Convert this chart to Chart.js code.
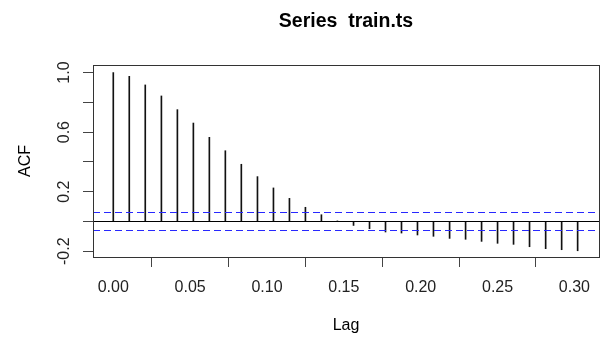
<!DOCTYPE html>
<html>
<head>
<meta charset="utf-8">
<script src="https://cdn.jsdelivr.net/npm/chart.js@4/dist/chart.umd.min.js"></script>
<style>
  body { margin: 0; background: #fff; }
</style>
</head>
<body>
<canvas id="acf-plot" width="606" height="338"></canvas>
<script>
// ACF of train.ts
const lags = [0.0000, 0.0104, 0.0208, 0.0313, 0.0417, 0.0521, 0.0625, 0.0729, 0.0833, 0.0938,
              0.1042, 0.1146, 0.1250, 0.1354, 0.1458, 0.1563, 0.1667, 0.1771, 0.1875, 0.1979,
              0.2083, 0.2188, 0.2292, 0.2396, 0.2500, 0.2604, 0.2708, 0.2813, 0.2917, 0.3021];
const acfValues = [1.000, 0.975, 0.917, 0.843, 0.751, 0.661, 0.565, 0.475, 0.384, 0.301,
                   0.225, 0.155, 0.095, 0.045, 0.003, -0.027, -0.049, -0.071, -0.078, -0.091,
                   -0.100, -0.114, -0.120, -0.134, -0.147, -0.154, -0.170, -0.183, -0.190, -0.197];
const ciUpper = 0.063;
const ciLower = -0.063;

const xTickValues = [0, 0.05, 0.10, 0.15, 0.20, 0.25, 0.30];
const xTickLabels = ['0.00', '0.05', '0.10', '0.15', '0.20', '0.25', '0.30'];
const yTickValues = [-0.2, 0, 0.2, 0.4, 0.6, 0.8, 1.0];
const yTickLabels = ['-0.2', '', '0.2', '', '0.6', '', '1.0'];

const FONT = "'Liberation Sans', Arial, sans-serif";

// box around the plot region plus the zero line and the blue confidence bounds
const acfLines = {
    id: 'acfLines',
    afterDatasetsDraw(chart) {
        const { ctx, chartArea: a, scales: { y } } = chart;
        ctx.save();
        ctx.lineWidth = 1;

        ctx.strokeStyle = '#000';
        const y0 = Math.floor(y.getPixelForValue(0)) + 0.5;
        ctx.beginPath();
        ctx.moveTo(a.left, y0);
        ctx.lineTo(a.right, y0);
        ctx.stroke();

        ctx.strokeStyle = 'rgb(40, 40, 255)';
        ctx.setLineDash([7, 4]);
        ctx.beginPath();
        [ciUpper, ciLower].forEach(v => {
            const py = Math.floor(y.getPixelForValue(v)) + 0.5;
            ctx.moveTo(a.left, py);
            ctx.lineTo(a.right, py);
        });
        ctx.stroke();
        ctx.setLineDash([]);

        ctx.strokeStyle = '#333';
        ctx.strokeRect(Math.round(a.left) + 0.5, Math.round(a.top) + 0.5,
                       Math.round(a.right - a.left), Math.round(a.bottom - a.top));
        ctx.restore();
    }
};

new Chart(document.getElementById('acf-plot'), {
    type: 'bar',
    data: {
        datasets: [{
            label: 'ACF',
            data: lags.map((l, i) => ({ x: l, y: acfValues[i] })),
            backgroundColor: '#111',
            barThickness: 1,
            borderWidth: 0
        }]
    },
    options: {
        responsive: false,
        animation: false,
        events: [],
        layout: { autoPadding: false, padding: { left: 0, right: 7, top: 0, bottom: 0 } },
        plugins: {
            legend: { display: false },
            tooltip: { enabled: false },
            title: {
                display: true,
                fullSize: false,
                text: 'Series  train.ts',
                color: '#000',
                font: { family: FONT, size: 19.5, weight: 'bold', lineHeight: 1.2 },
                padding: { top: 10, bottom: 31.6 }
            }
        },
        scales: {
            x: {
                type: 'linear',
                offset: false,
                min: -0.0132,
                max: 0.316,
                afterBuildTicks: s => { s.ticks = xTickValues.map(v => ({ value: v })); },
                afterFit: s => { s.height = 81; },
                ticks: {
                    color: '#222',
                    font: { family: FONT, size: 16 },
                    padding: 11,
                    maxRotation: 0,
                    autoSkip: false,
                    callback: (v) => xTickLabels[xTickValues.indexOf(v)]
                },
                grid: { drawOnChartArea: false, tickLength: 10, color: '#444' },
                border: { display: false },
                title: {
                    display: true,
                    text: 'Lag',
                    color: '#000',
                    font: { family: FONT, size: 16 },
                    padding: { top: 0, bottom: 2.4 }
                }
            },
            y: {
                min: -0.239,
                max: 1.051,
                afterBuildTicks: s => { s.ticks = yTickValues.map(v => ({ value: v })); },
                afterFit: s => { s.width = 93; },
                ticks: {
                    color: '#222',
                    font: { family: FONT, size: 16 },
                    padding: 5,
                    minRotation: 90,
                    maxRotation: 90,
                    crossAlign: 'center',
                    autoSkip: false,
                    callback: (v) => yTickLabels[yTickValues.indexOf(v)]
                },
                grid: { drawOnChartArea: false, tickLength: 10, color: '#444' },
                border: { display: false },
                title: {
                    display: true,
                    text: 'ACF',
                    color: '#000',
                    font: { family: FONT, size: 16 },
                    padding: { top: 16, bottom: 0 }
                }
            }
        }
    },
    plugins: [acfLines]
});
</script>
</body>
</html>
